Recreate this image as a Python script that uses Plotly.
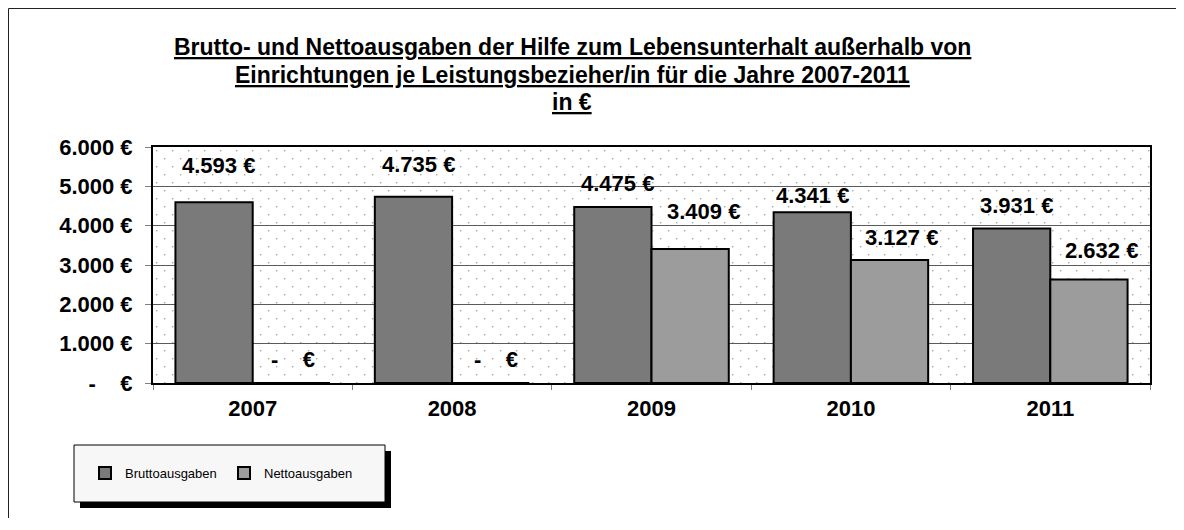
import base64
import plotly.graph_objects as go

# ---------------- data ----------------
years = ["2007", "2008", "2009", "2010", "2011"]
brutto = [4593, 4735, 4475, 4341, 3931]
netto = [0, 0, 3409, 3127, 2632]
series_names = ["Bruttoausgaben", "Nettoausgaben"]
y_tick_values = [0, 1000, 2000, 3000, 4000, 5000, 6000]
title_lines = [
    "Brutto- und Nettoausgaben der Hilfe zum Lebensunterhalt außerhalb von",
    "Einrichtungen je Leistungsbezieher/in für die Jahre 2007-2011",
    "in €",
]

# ---------------- style ----------------
FONT = "Liberation Sans, Arial, sans-serif"
OFF = 8                      # page body margin
W, H = 1184 - OFF, 530 - 2 * OFF - 4
L, R, T, B = 153, 1150, 147, 383  # plot area in page pixels


def px(x):
    return (x - L) / (R - L)


def py(y):
    return (B - y) / (B - T)


def eur(v):
    if v == 0:
        return "-\u00a0\u00a0\u00a0\u00a0€"
    return f"{v:,}".replace(",", ".") + " €"


# label offsets (pixels) relative to top-centre of each bar
brutto_dx = [4, 5, 5, 0, 5]
brutto_dy = [37, 32, 23, 17, 23]
netto_dx = [2, 5, 13, 12, 13]
netto_dy = [24, 24, 37, 23, 29]
BARGAP = 0.225
half = (R - L) / len(years) * (1 - BARGAP) / 4

# dotted plot-area background as an SVG pattern
pw, ph = R - L, B - T
svg = (
    f"<svg xmlns='http://www.w3.org/2000/svg' width='{pw}' height='{ph}'>"
    "<defs><pattern id='p' width='16' height='16' patternUnits='userSpaceOnUse'>"
    "<rect x='3' y='3' width='1.4' height='1.4' fill='#a8a8a8'/>"
    "<rect x='11' y='11' width='1.4' height='1.4' fill='#a8a8a8'/>"
    "</pattern></defs>"
    f"<rect width='{pw}' height='{ph}' fill='url(#p)'/></svg>"
)
svg_uri = "data:image/svg+xml;base64," + base64.b64encode(svg.encode()).decode()

fig = go.Figure()
fig.add_trace(go.Bar(
    x=years, y=brutto, name=series_names[0],
    marker=dict(color="#7a7a7a", line=dict(color="#000000", width=2)),
))
fig.add_trace(go.Bar(
    x=years, y=netto, name=series_names[1],
    marker=dict(color="#9c9c9c", line=dict(color="#000000", width=2)),
))

LABEL_FONT = dict(family=FONT, size=22, color="#000000", weight="bold")
annotations = []
for i, yr in enumerate(years):
    annotations.append(dict(
        x=i, y=brutto[i], xref="x", yref="y", text=eur(brutto[i]),
        showarrow=False, xshift=-half + brutto_dx[i], yshift=brutto_dy[i],
        font=LABEL_FONT,
    ))
    annotations.append(dict(
        x=i, y=netto[i], xref="x", yref="y", text=eur(netto[i]),
        showarrow=False, xshift=half + netto_dx[i], yshift=netto_dy[i],
        font=LABEL_FONT,
    ))

title_y = [47, 75, 102]
for line, yy in zip(title_lines, title_y):
    annotations.append(dict(
        x=px(572), y=py(yy), xref="paper", yref="paper",
        text=f"<u>{line}</u>", showarrow=False, xanchor="center", yanchor="middle",
        font=dict(family=FONT, size=23, color="#000000", weight="bold"),
    ))

right_edge = OFF + W
shapes = [
    # outer chart frame (top and left edges)
    dict(type="line", xref="paper", yref="paper", layer="below",
         x0=px(8.5), x1=px(right_edge), y0=py(8.5), y1=py(8.5),
         line=dict(color="#222222", width=1)),
    dict(type="line", xref="paper", yref="paper", layer="below",
         x0=px(8.5), x1=px(8.5), y0=py(8.5), y1=py(OFF + H),
         line=dict(color="#222222", width=1)),
    # legend shadow and box
    dict(type="rect", xref="paper", yref="paper", layer="below",
         x0=px(80), x1=px(391), y0=py(451), y1=py(508),
         fillcolor="#000000", line=dict(width=0)),
    dict(type="rect", xref="paper", yref="paper", layer="below",
         x0=px(74), x1=px(385), y0=py(445), y1=py(502),
         fillcolor="#f7f7f7", line=dict(color="#000000", width=1)),
]

fig.update_layout(
    width=W, height=H,
    margin=dict(l=L - OFF, r=(OFF + W) - R, t=T - OFF, b=(OFF + H) - B, pad=0),
    paper_bgcolor="#ffffff",
    plot_bgcolor="rgba(0,0,0,0)",
    barmode="group", bargap=BARGAP, bargroupgap=0,
    font=dict(family=FONT, color="#000000"),
    showlegend=True,
    legend=dict(
        orientation="h", x=px(85), y=py(473), xanchor="left", yanchor="middle",
        bgcolor="rgba(0,0,0,0)", borderwidth=0,
        font=dict(family=FONT, size=13, color="#000000"),
        entrywidth=94, entrywidthmode="pixels", traceorder="normal",
    ),
    annotations=annotations,
    shapes=shapes,
    images=[dict(
        source=svg_uri, xref="paper", yref="paper", x=0, y=1,
        sizex=1, sizey=1, xanchor="left", yanchor="top",
        sizing="stretch", layer="below",
    )],
    xaxis=dict(
        type="category", range=[-0.5, len(years) - 0.5], autorange=False,
        showgrid=False, showline=True, linecolor="#000000",
        linewidth=2, mirror=True, ticks="outside", tickson="boundaries",
        ticklen=5, tickcolor="#808080", tickwidth=1, ticklabelstandoff=5,
        tickfont=dict(family=FONT, size=22, color="#000000", weight="bold"),
    ),
    yaxis=dict(
        range=[0, 6000], autorange=False, tickvals=y_tick_values,
        ticktext=[eur(v) for v in y_tick_values],
        showgrid=True, gridcolor="#5a5a5a", gridwidth=1,
        showline=True, linecolor="#000000", linewidth=2, mirror=True,
        ticks="outside", ticklen=6, tickcolor="#808080", tickwidth=1,
        ticklabelstandoff=8, zeroline=False,
        tickfont=dict(family=FONT, size=22, color="#000000", weight="bold"),
    ),
)

fig.write_html("out.html", config={"displayModeBar": False})
